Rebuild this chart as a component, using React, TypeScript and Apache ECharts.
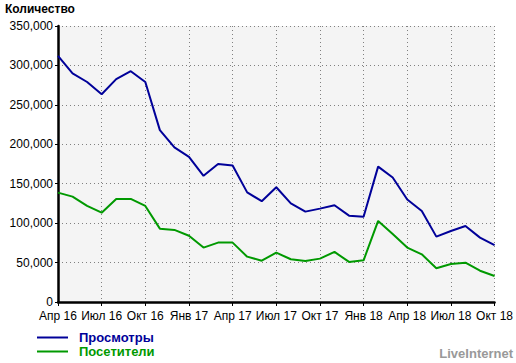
import React, { useEffect, useRef } from "react";
import * as echarts from "echarts";

const months = [
  "Апр 16", "Май 16", "Июн 16", "Июл 16", "Авг 16", "Сен 16", "Окт 16", "Ноя 16", "Дек 16",
  "Янв 17", "Фев 17", "Мар 17", "Апр 17", "Май 17", "Июн 17", "Июл 17", "Авг 17", "Сен 17",
  "Окт 17", "Ноя 17", "Дек 17", "Янв 18", "Фев 18", "Мар 18", "Апр 18", "Май 18", "Июн 18",
  "Июл 18", "Авг 18", "Сен 18", "Окт 18",
];

const views = [
  312000, 290000, 279000, 263500, 282600, 292700, 279000, 218000, 196000, 184000, 160000,
  175000, 173000, 139000, 127800, 145500, 125000, 114600, 118400, 122700, 109500, 108000,
  171700, 157800, 130000, 115500, 82900, 90000, 96400, 81600, 72000,
];

const visitors = [
  138700, 133600, 122000, 113300, 130700, 130700, 121800, 93000, 91400, 84000, 69000,
  75300, 75300, 57500, 52400, 62600, 54200, 52000, 55000, 63500, 50800, 52900,
  102800, 86300, 69000, 60500, 42800, 48200, 49900, 39700, 33000,
];

const seriesNames = ["Просмотры", "Посетители"];
const seriesColors = ["#000099", "#009900"];

export default function App() {
  const ref = useRef<HTMLDivElement>(null);
  useEffect(() => {
    if (!ref.current) return;
    const chart = echarts.init(ref.current, null, { renderer: "svg" });
    const font = "'Liberation Sans', Arial, sans-serif";
    chart.setOption({
      animation: false,
      backgroundColor: "#ffffff",
      textStyle: { fontFamily: font },
      title: {
        text: "Количество",
        left: 5,
        top: 2,
        padding: 0,
        textStyle: { fontSize: 12, fontWeight: "bold", color: "#000", fontFamily: font, lineHeight: 14 },
      },
      grid: {
        left: 58,
        right: 21,
        top: 26,
        bottom: 61,
        show: true,
        backgroundColor: "#f4f4f4",
        borderWidth: 0,
      },
      legend: seriesNames.map((n, i) => ({
        orient: "vertical",
        left: 37,
        top: 331 + i * 14,
        padding: 0,
        itemWidth: 31,
        itemHeight: 2,
        icon: "rect",
        data: [
          {
            name: n,
            textStyle: {
              color: seriesColors[i],
              fontWeight: "bold",
              fontSize: 13,
              fontFamily: font,
              padding: [0, 0, 0, 6],
            },
          },
        ],
      })),
      xAxis: {
        type: "category",
        data: months,
        boundaryGap: false,
        axisLine: { lineStyle: { color: "#000", width: 2.5 } },
        axisTick: { show: true, interval: 2, length: 4, lineStyle: { color: "#000", width: 1 } },
        axisLabel: { interval: 2, color: "#000", fontSize: 12, margin: 8, fontFamily: font },
        splitLine: { show: true, interval: 2, lineStyle: { color: "#808080", type: [1, 3], width: 1 } },
      },
      yAxis: {
        type: "value",
        min: 0,
        max: 350000,
        interval: 50000,
        axisLine: { show: true, lineStyle: { color: "#000", width: 2.5 } },
        axisTick: { show: true, length: 3, lineStyle: { color: "#000" } },
        axisLabel: {
          color: "#000",
          fontSize: 12,
          margin: 5,
          fontFamily: font,
          formatter: (v: number) => v.toLocaleString("en-US"),
        },
        splitLine: { show: true, lineStyle: { color: "#808080", type: [1, 3], width: 1 } },
      },
      series: [
        {
          name: seriesNames[0],
          type: "line",
          data: views,
          symbol: "none",
          color: seriesColors[0],
          lineStyle: { width: 2, color: seriesColors[0] },
        },
        {
          name: seriesNames[1],
          type: "line",
          data: visitors,
          symbol: "none",
          color: seriesColors[1],
          lineStyle: { width: 2, color: seriesColors[1] },
        },
      ],
      graphic: [
        {
          type: "text",
          right: 3,
          bottom: 3,
          style: {
            text: "LiveInternet",
            fill: "#999999",
            font: `bold 13px ${font}`,
          },
        },
      ],
    });
    return () => chart.dispose();
  }, []);
  return (
    <div
      ref={ref}
      style={{ position: "fixed", left: 0, top: 0, width: 516, height: 363 }}
    />
  );
}
